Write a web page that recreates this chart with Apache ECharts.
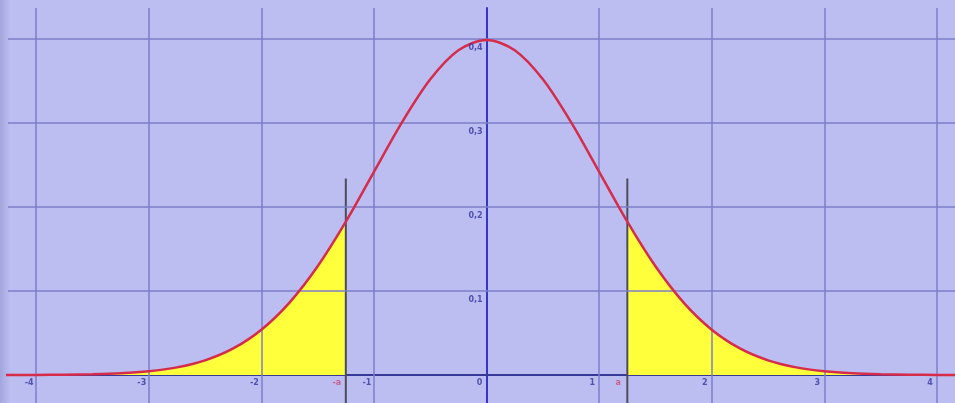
<!DOCTYPE html>
<html><head><meta charset="utf-8">
<script src="https://cdn.jsdelivr.net/npm/echarts@6/dist/echarts.min.js"></script>
<style>html,body{margin:0;padding:0;background:#bcbdf0}#c{width:955px;height:403px}</style>
</head><body><div id="c"></div>
<script>
// Curve samples
var xs = [-4.5,-4.25,-4,-3.75,-3.5,-3.25,-3,-2.75,-2.5,-2.25,-2,-1.75,-1.5,-1.25,-1,-0.75,-0.5,-0.25,0,
          0.25,0.5,0.75,1,1.25,1.5,1.75,2,2.25,2.5,2.75,3,3.25,3.5,3.75,4,4.25,4.5];
var ys = [0.0000,0.0001,0.0001,0.0004,0.0009,0.0020,0.0044,0.0091,0.0175,0.0317,0.0540,0.0863,0.1295,0.1826,0.2420,0.3011,0.3521,0.3867,0.3989,
          0.3867,0.3521,0.3011,0.2420,0.1826,0.1295,0.0863,0.0540,0.0317,0.0175,0.0091,0.0044,0.0020,0.0009,0.0004,0.0001,0.0001,0.0000];
var cutX = [-1.25, 1.25];
var cutTop = 0.234;
var cutLabels = ['-a', 'a'];
var xTicks = [-4,-3,-2,-1,0,1,2,3,4];
var xTickLabels = ['-4','-3','-2','-1','0','1','2','3','4'];
var yTicks = [0.1,0.2,0.3,0.4];
var yTickLabels = ['0,1','0,2','0,3','0,4'];

var curve = xs.map(function(x,i){return [x, ys[i]];});
var leftTail = curve.filter(function(p){return p[0] <= cutX[0];});
var rightTail = curve.filter(function(p){return p[0] >= cutX[1];});

var chart = echarts.init(document.getElementById('c'), null, {renderer:'canvas'});
var labelColor = '#3434a0';
var gridColor = '#7d7ec9';
var lblFont = {fontSize:8, fontWeight:'bold', fontFamily:'DejaVu Sans'};
function lbl(extra){var o={show:true, formatter:'{b}', position:'inside', color:labelColor}; for(var k in lblFont)o[k]=lblFont[k]; for(var k2 in extra)o[k2]=extra[k2]; return o;}

chart.setOption({
  backgroundColor: '#bcbdf0',
  animation: false,
  graphic: [{
    type:'rect', left:0, top:0, z:-1, silent:true,
    shape:{width:10, height:403},
    style:{fill:new echarts.graphic.LinearGradient(0,0,1,0,[{offset:0,color:'#a3a5dd'},{offset:1,color:'#bcbdf0'}])}
  }],
  grid: {left:8, top:8, right:0, bottom:0, containLabel:false},
  xAxis: {
    type:'value', min:-4.25, max:4.16,
    axisLine:{onZero:true, lineStyle:{color:'#383898', width:2}},
    axisTick:{show:false}, axisLabel:{show:false}, splitLine:{show:false}
  },
  yAxis: {
    type:'value', min:-0.0333, max:0.437,
    axisLine:{onZero:true, lineStyle:{color:'#3535c8', width:2}},
    axisTick:{show:false}, axisLabel:{show:false}, splitLine:{show:false}
  },
  series: [
    {type:'line', data:[], silent:true, z:1,
     markLine:{silent:true, symbol:'none', label:{show:false}, animation:false,
       lineStyle:{color:gridColor, width:1.5, type:'solid'},
       data: xTicks.filter(function(v){return v!==0;}).map(function(v){return {xAxis:v};})
             .concat(yTicks.map(function(v){return {yAxis:v};}))}},
    {type:'line', data:leftTail, smooth:0.3, symbol:'none', lineStyle:{width:0}, areaStyle:{color:'#ffff3c', opacity:1}, z:2},
    {type:'line', data:rightTail, smooth:0.3, symbol:'none', lineStyle:{width:0}, areaStyle:{color:'#ffff3c', opacity:1}, z:2},
    {type:'line', data:curve, smooth:0.3, symbol:'none', lineStyle:{color:'#d62c4c', width:2.5}, z:5},
    {type:'line', data:[[cutX[0],-0.05],[cutX[0],cutTop]], symbol:'none', lineStyle:{color:'#4c4c5c', width:2}, z:4},
    {type:'line', data:[[cutX[1],-0.05],[cutX[1],cutTop]], symbol:'none', lineStyle:{color:'#4c4c5c', width:2}, z:4},
    {type:'scatter', symbolSize:0, z:6, silent:true,
     data:xTicks.map(function(x,i){return {value:[x,0], name:xTickLabels[i]};}),
     label:lbl({offset:[-7,8]})},
    {type:'scatter', symbolSize:0, z:6, silent:true,
     data:yTicks.map(function(y,i){return {value:[0,y], name:yTickLabels[i]};}),
     label:lbl({offset:[-11,9]})},
    {type:'scatter', symbolSize:0, z:6, silent:true,
     data:cutX.map(function(x,i){return {value:[x,0], name:cutLabels[i]};}),
     label:lbl({offset:[-9,8], color:'#cc4a70'})}
  ]
});
</script>
</body></html>
